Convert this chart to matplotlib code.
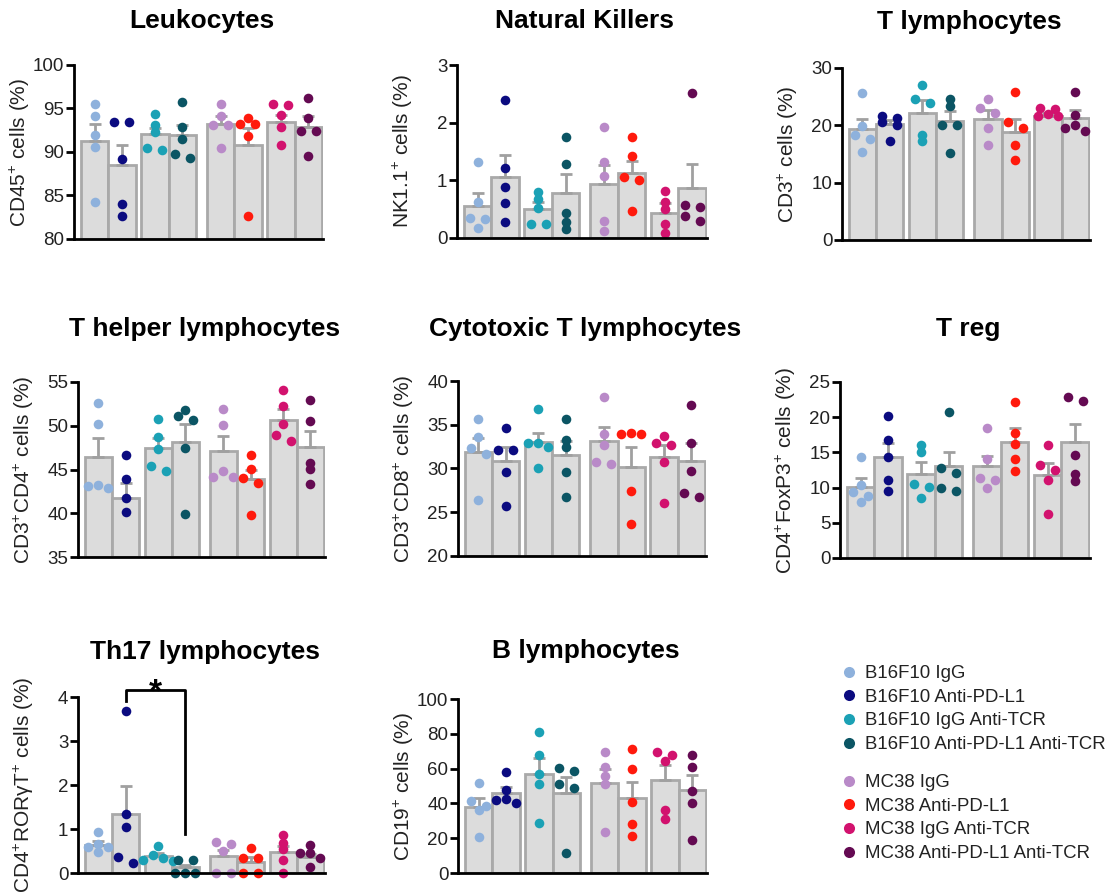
import numpy as np
import matplotlib
matplotlib.use('Agg')
import matplotlib.pyplot as plt
from matplotlib.lines import Line2D

plt.rcParams['font.family'] = ['Liberation Sans', 'DejaVu Sans']
plt.rcParams['mathtext.fontset'] = 'custom'
plt.rcParams['mathtext.rm'] = 'Liberation Sans'
plt.rcParams['mathtext.it'] = 'Liberation Sans:italic'
plt.rcParams['mathtext.bf'] = 'Liberation Sans:bold'

# groups and colours (same order in every panel)
groups = ['B16F10 IgG', 'B16F10 Anti-PD-L1', 'B16F10 IgG Anti-TCR', 'B16F10 Anti-PD-L1 Anti-TCR',
          'MC38 IgG', 'MC38 Anti-PD-L1', 'MC38 IgG Anti-TCR', 'MC38 Anti-PD-L1 Anti-TCR']
colors = ['#8eb1dc', '#0b0b80', '#1ba1b5', '#0b5564', '#b98ac8', '#ff1a0d', '#d2126e', '#640a52']

# Leukocytes
leuko_pts = [[95.5, 94.1, 91.9, 90.6, 84.3], [93.4, 93.4, 89.2, 84.05, 82.6],
             [94.4, 93.1, 92.3, 90.2, 90.5], [95.7, 92.9, 91.5, 89.3, 89.75],
             [95.5, 94.1, 93.1, 93.1, 90.5], [93.9, 93.2, 93.2, 91.85, 82.6],
             [95.5, 95.4, 94.2, 92.85, 90.75], [96.25, 93.9, 92.4, 92.4, 89.5]]
leuko_mean = [91.3, 88.5, 92.1, 91.9, 93.2, 90.8, 93.5, 92.9]
leuko_sem = [1.9, 2.3, 0.7, 1.2, 0.95, 2.0, 0.8, 1.2]

# Natural killers
nk_pts = [[1.32, 0.62, 0.35, 0.33, 0.17], [2.39, 1.21, 0.88, 0.6, 0.27],
          [0.80, 0.68, 0.52, 0.24, 0.24], [1.75, 1.28, 0.44, 0.27, 0.15],
          [1.93, 1.31, 1.07, 0.29, 0.12], [1.75, 1.42, 1.06, 1.0, 0.47],
          [0.82, 0.62, 0.51, 0.24, 0.09], [2.52, 0.57, 0.53, 0.39, 0.29]]
nk_mean = [0.56, 1.06, 0.50, 0.78, 0.94, 1.12, 0.44, 0.86]
nk_sem = [0.22, 0.38, 0.13, 0.33, 0.32, 0.21, 0.16, 0.42]

# T lymphocytes
tly_pts = [[25.65, 19.9, 18.4, 17.7, 15.4], [21.7, 21.2, 20.5, 20.1, 17.2],
           [27.0, 24.6, 23.9, 18.3, 17.2], [24.6, 23.4, 20.1, 20.1, 15.1],
           [24.6, 23.0, 22.1, 19.6, 16.5], [25.9, 20.5, 19.5, 16.5, 14.0],
           [23.1, 22.9, 21.9, 21.7, 21.6], [25.9, 21.8, 20.0, 19.6, 19.0]]
tly_mean = [19.4, 20.3, 22.2, 20.7, 21.1, 18.8, 21.6, 21.3]
tly_sem = [1.7, 0.7, 2.2, 1.8, 1.6, 2.3, 0.6, 1.3]

# T helper lymphocytes
th_pts = [[52.6, 50.2, 43.2, 43.1, 42.9], [46.7, 43.95, 41.8, 40.2],
          [50.8, 48.7, 47.35, 45.4, 44.8], [51.8, 51.1, 50.7, 47.5, 39.9],
          [51.9, 50.05, 44.8, 44.2, 44.2], [46.7, 45.1, 44.0, 43.5, 39.8],
          [54.05, 52.3, 50.2, 48.9, 48.3], [53.0, 50.55, 45.8, 45.1, 43.3]]
th_mean = [46.4, 41.8, 47.5, 48.1, 47.1, 43.9, 50.7, 47.6]
th_sem = [2.2, 1.7, 1.1, 2.1, 1.7, 1.1, 1.2, 1.8]

# Cytotoxic T lymphocytes
ctl_pts = [[35.6, 33.55, 32.3, 31.7, 26.4], [34.6, 32.1, 32.1, 29.6, 25.75],
           [36.8, 32.9, 32.9, 32.5, 30.0], [35.7, 33.25, 32.4, 29.6, 26.7],
           [38.2, 33.9, 32.65, 30.7, 30.5], [34.0, 33.9, 33.9, 27.4, 23.7],
           [33.7, 32.95, 32.7, 30.75, 26.05], [37.3, 32.95, 29.7, 27.2, 26.7]]
ctl_mean = [31.9, 30.8, 33.0, 31.5, 33.1, 30.2, 31.3, 30.8]
ctl_sem = [1.6, 1.7, 1.1, 1.6, 1.6, 2.3, 1.4, 2.1]

# T reg
treg_pts = [[14.3, 10.4, 9.4, 8.8, 7.9], [20.1, 16.7, 14.4, 11.05, 9.5],
            [16.0, 15.0, 10.5, 10.1, 8.5], [20.7, 12.75, 12.1, 10.0, 9.5],
            [18.5, 14.1, 11.3, 11.15, 9.9], [22.2, 17.8, 16.2, 14.1, 12.3],
            [16.0, 13.2, 12.5, 11.15, 6.2], [22.8, 22.3, 14.7, 12.0, 11.0]]
treg_mean = [10.1, 14.4, 12.0, 13.1, 13.1, 16.5, 11.85, 16.5]
treg_sem = [1.3, 1.9, 1.7, 1.9, 1.4, 1.9, 1.65, 2.5]

# Th17 lymphocytes
th17_pts = [[0.93, 0.67, 0.58, 0.58, 0.48], [3.69, 1.34, 1.04, 0.36, 0.23],
            [0.61, 0.40, 0.35, 0.30, 0.28], [0.30, 0.29, 0.0, 0.0, 0.0],
            [0.70, 0.65, 0.0, 0.0, 0.5], [0.56, 0.33, 0.33, 0.0, 0.0],
            [0.86, 0.69, 0.55, 0.29, 0.0], [0.63, 0.45, 0.45, 0.33, 0.13]]
th17_mean = [0.64, 1.34, 0.38, 0.13, 0.38, 0.24, 0.48, 0.36]
th17_sem = [0.08, 0.64, 0.08, 0.06, 0.14, 0.13, 0.13, 0.07]

# B lymphocytes
blym_pts = [[51.6, 41.3, 38.6, 36.1, 20.65], [58.3, 47.8, 42.6, 41.9, 40.0],
            [81.1, 67.9, 56.8, 51.05, 28.7], [60.6, 58.5, 51.4, 48.8, 11.3],
            [69.8, 60.8, 56.0, 50.9, 23.5], [71.5, 59.7, 40.7, 28.1, 21.0],
            [69.8, 67.7, 64.6, 36.1, 30.8], [67.7, 60.8, 47.4, 40.2, 19.1]]
blym_mean = [38.2, 46.1, 57.0, 45.9, 51.8, 43.2, 53.3, 47.6]
blym_sem = [4.8, 3.6, 9.0, 9.2, 8.0, 9.2, 8.8, 8.6]

# Th17 significance bracket (bar 2 vs bar 4)
sig_pair = (1, 3)
sig_top = 4.15
sig_left_end = 3.9
sig_right_end = 0.88

W, H = 1110, 894
fig = plt.figure(figsize=(W / 100, H / 100), dpi=100)


def px_rect(left, top, right, bottom):
    return [left / W, 1 - bottom / H, (right - left) / W, (bottom - top) / H]


panels = [
    ('Leukocytes', 'CD45$^{+}$ cells (%)', leuko_pts, leuko_mean, leuko_sem, (80, 100, 5), (74, 65, 323, 239)),
    ('Natural Killers', 'NK1.1$^{+}$ cells (%)', nk_pts, nk_mean, nk_sem, (0, 3, 1), (457, 65, 707, 238)),
    ('T lymphocytes', 'CD3$^{+}$ cells (%)', tly_pts, tly_mean, tly_sem, (0, 30, 10), (842, 68, 1090, 240)),
    ('T helper lymphocytes', 'CD3$^{+}$CD4$^{+}$ cells (%)', th_pts, th_mean, th_sem, (35, 55, 5), (78, 382, 325, 557)),
    ('Cytotoxic T lymphocytes', 'CD3$^{+}$CD8$^{+}$ cells (%)', ctl_pts, ctl_mean, ctl_sem, (20, 40, 5), (458, 381, 706, 556)),
    ('T reg', 'CD4$^{+}$FoxP3$^{+}$ cells (%)', treg_pts, treg_mean, treg_sem, (0, 25, 5), (840, 382, 1090, 558)),
    ('Th17 lymphocytes', 'CD4$^{+}$RORγT$^{+}$ cells (%)', th17_pts, th17_mean, th17_sem, (0, 4, 1), (78, 697, 325, 873)),
    ('B lymphocytes', 'CD19$^{+}$ cells (%)', blym_pts, blym_mean, blym_sem, (0, 100, 20), (458, 699, 707, 873)),
]
title_base = {65: 28, 68: 29, 381: 336, 382: 336, 697: 659, 699: 658}

# bar positions: pairs touching, small gap between pairs, bigger gap between tumour models
xpos = np.array([i + 0.2 * (i // 2) + 0.2 * (i // 4) for i in range(8)])
bar_fill = '#dcdcdc'
bar_edge = '#a9a9a9'


def swarm_offsets(vals, px_y, px_x, thresh=6.0, step=10.0, pair=7.5):
    # points closer than thresh pixels share a row and get spread sideways
    vals = np.asarray(vals, dtype=float)
    order = np.argsort(-vals, kind='stable')
    rows = []
    for idx in order:
        if rows and (vals[rows[-1][0]] - vals[idx]) * px_y < thresh:
            rows[-1].append(idx)
        else:
            rows.append([idx])
    offs = np.zeros(len(vals))
    for row in rows:
        n = len(row)
        if n == 2:
            slots = [-pair, pair]
        elif n % 2:
            slots = [0] + [s * step for k in range(1, n // 2 + 1) for s in (-k, k)]
        else:
            slots = [s * step for k in range(n // 2) for s in (-(k + 0.5), k + 0.5)]
        for idx, s in zip(row, slots):
            offs[idx] = s / px_x
    return offs


for title, ylabel, pts, mean, sem, (ymin, ymax, ystep), rect in panels:
    ax = fig.add_axes(px_rect(*rect))
    ax.set_xlim(-0.75, 8.34)
    ax.set_ylim(ymin, ymax)
    px_x = ax.bbox.width / (8.34 + 0.75)
    px_y = ax.bbox.height / (ymax - ymin)

    ax.bar(xpos, np.array(mean) - ymin, bottom=ymin, width=1.0, color=bar_fill,
           edgecolor=bar_edge, linewidth=2, zorder=1)
    ax.errorbar(xpos, mean, yerr=[np.zeros(8), sem], fmt='none', ecolor='#a0a0a0',
                elinewidth=2, capsize=4.5, capthick=2, zorder=2)
    for i in range(8):
        offs = swarm_offsets(pts[i], px_y, px_x)
        ax.scatter(xpos[i] + offs, pts[i], s=48, color=colors[i], linewidths=0,
                   zorder=3, clip_on=False)

    for s in ['top', 'right']:
        ax.spines[s].set_visible(False)
    for s in ['left', 'bottom']:
        ax.spines[s].set_linewidth(2)
        ax.spines[s].set_zorder(4)
    ax.set_xticks([])
    ticks = np.arange(ymin, ymax + ystep / 2, ystep)
    ax.set_yticks(ticks)
    ax.set_yticklabels([str(int(v)) for v in ticks])
    ax.tick_params(axis='y', direction='out', length=6, width=2, labelsize=13.5,
                   pad=1, labelcolor='#222222')
    ax.set_ylabel(ylabel, fontsize=15, color='#222222')
    ax.yaxis.set_label_coords(-54 / ax.bbox.width, 0.5)
    ax.yaxis.label.set_verticalalignment('center')

    cx = (rect[0] + rect[2]) / 2 + 3
    fig.text(cx / W, 1 - title_base[rect[1]] / H, title, ha='center', va='baseline',
             fontsize=19, fontweight='bold')

    if title.startswith('Th17'):
        a, b = xpos[sig_pair[0]], xpos[sig_pair[1]]
        ax.plot([a, a, b, b], [sig_left_end, sig_top, sig_top, sig_right_end],
                color='black', linewidth=2, clip_on=False, zorder=5)
        ax.annotate('*', xy=((a + b) / 2, sig_top), xytext=(0, -8), textcoords='offset points',
                    ha='center', va='baseline', fontsize=24, fontweight='bold',
                    annotation_clip=False)

# legend: two blocks, one per tumour model
for k, top in enumerate([665, 774]):
    handles = [Line2D([], [], linestyle='none', marker='o', markersize=8,
                      markerfacecolor=colors[i], markeredgewidth=0) for i in range(4 * k, 4 * k + 4)]
    fig.legend(handles, groups[4 * k:4 * k + 4], loc='upper left',
               bbox_to_anchor=(842 / W, 1 - top / H), frameon=False, fontsize=13.4,
               handlelength=0.8, handletextpad=0.45, labelspacing=0.36,
               borderpad=0, borderaxespad=0, labelcolor='#222222')

fig.savefig('out.png', dpi=100)
